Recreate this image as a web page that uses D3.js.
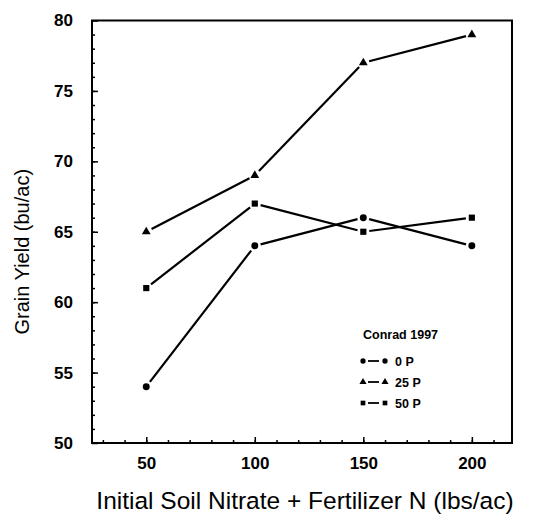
<!DOCTYPE html>
<html>
<head>
<meta charset="utf-8">
<script src="https://cdn.jsdelivr.net/npm/d3@7"></script>
<style>
  body { margin: 0; background: #fff; }
  text { font-family: "Liberation Sans", Arial, sans-serif; }
</style>
</head>
<body>
<svg id="chart"></svg>
<script>
// Data
const nitrogen = [50, 100, 150, 200];
const yield0P = [54, 64, 66, 64];
const yield25P = [65, 69, 77, 79];
const yield50P = [61, 67, 65, 66];
const seriesNames = ['0 P', '25 P', '50 P'];
const xTicks = [50, 100, 150, 200];
const yTicks = [50, 55, 60, 65, 70, 75, 80];

const width = 535;
const height = 525;
const margin = { top: 20.5, right: 23, bottom: 82, left: 92 };

const svg = d3.select('#chart')
  .attr('width', width)
  .attr('height', height);

const x = d3.scaleLinear().domain([25, 218.5]).range([margin.left, width - margin.right]);
const y = d3.scaleLinear().domain([50, 80]).range([height - margin.bottom, margin.top]);

// Frame
svg.append('rect')
  .attr('x', x.range()[0]).attr('y', y.range()[1])
  .attr('width', x.range()[1] - x.range()[0])
  .attr('height', y.range()[0] - y.range()[1])
  .attr('fill', 'none').attr('stroke', '#000').attr('stroke-width', 2);

// Axes with inward ticks
const xMinor = d3.axisBottom(x).tickValues(d3.range(30, 220, 10)).tickSize(-3).tickFormat('');
const xMajor = d3.axisBottom(x).tickValues(xTicks).tickSize(-6).tickPadding(14).tickFormat(d3.format('d'));
const yMinor = d3.axisLeft(y).tickValues(d3.range(51, 80, 1)).tickSize(-3).tickFormat('');
const yMajor = d3.axisLeft(y).tickValues(yTicks).tickSize(-6).tickPadding(19).tickFormat(d3.format('d'));

const bottom = y.range()[0];
const left = x.range()[0];
[xMinor, xMajor].forEach(a => {
  svg.append('g').attr('transform', `translate(0,${bottom})`).call(a)
    .call(g => g.select('.domain').remove());
});
[yMinor, yMajor].forEach(a => {
  svg.append('g').attr('transform', `translate(${left},0)`).call(a)
    .call(g => g.select('.domain').remove());
});
svg.selectAll('.tick line').attr('stroke', '#000').attr('stroke-width', 1.5);
svg.selectAll('.tick text')
  .style('font-size', '17px').style('font-weight', 'bold').attr('fill', '#000');

// Axis titles
svg.append('text')
  .attr('x', 305)
  .attr('y', 509)
  .attr('text-anchor', 'middle')
  .style('font-size', '24.5px')
  .text('Initial Soil Nitrate + Fertilizer N (lbs/ac)');

svg.append('text')
  .attr('transform', `translate(29,${(y.range()[0] + y.range()[1]) / 2 + 20}) rotate(-90)`)
  .attr('text-anchor', 'middle')
  .style('font-size', '20px')
  .text('Grain Yield (bu/ac)');

// Marker shapes
const symbols = [d3.symbolCircle, d3.symbolTriangle, d3.symbolSquare];
const series = [yield0P, yield25P, yield50P].map((vals, i) => ({
  name: seriesNames[i],
  symbol: symbols[i],
  points: vals.map((v, j) => [x(nitrogen[j]), y(v)])
}));

// Segments with a small gap at each marker
const gap = 6;
function gapSegments(pts) {
  const segs = [];
  for (let i = 0; i < pts.length - 1; i++) {
    const [x1, y1] = pts[i], [x2, y2] = pts[i + 1];
    const len = Math.hypot(x2 - x1, y2 - y1);
    const ux = (x2 - x1) / len, uy = (y2 - y1) / len;
    segs.push([[x1 + ux * gap, y1 + uy * gap], [x2 - ux * gap, y2 - uy * gap]]);
  }
  return segs;
}

const lines = svg.append('g');
series.forEach(s => {
  lines.selectAll(null)
    .data(gapSegments(s.points))
    .join('line')
    .attr('x1', d => d[0][0]).attr('y1', d => d[0][1])
    .attr('x2', d => d[1][0]).attr('y2', d => d[1][1])
    .attr('stroke', '#000').attr('stroke-width', 2.2);

  lines.selectAll(null)
    .data(s.points)
    .join('path')
    .attr('transform', d => `translate(${d[0]},${d[1]})`)
    .attr('d', d3.symbol().type(s.symbol).size(s.symbol === d3.symbolTriangle ? 34 : 38))
    .attr('fill', '#000');
});

// Legend
const legend = svg.append('g').attr('transform', 'translate(363,0)');
legend.append('text')
  .attr('x', 0).attr('y', 339)
  .style('font-size', '12.5px').style('font-weight', 'bold')
  .text('Conrad 1997');

const rowY = [361, 382, 403];
series.forEach((s, i) => {
  const row = legend.append('g').attr('transform', `translate(0,${rowY[i]})`);
  row.selectAll('path')
    .data([0, 22])
    .join('path')
    .attr('transform', d => `translate(${d},0)`)
    .attr('d', d3.symbol().type(s.symbol).size(22))
    .attr('fill', '#000');
  row.append('line')
    .attr('x1', 5).attr('x2', 16).attr('y1', 0).attr('y2', 0)
    .attr('stroke', '#000').attr('stroke-width', 1.8);
  row.append('text')
    .attr('x', 32).attr('y', 4.5)
    .style('font-size', '12.5px').style('font-weight', 'bold')
    .text(s.name);
});
</script>
</body>
</html>
